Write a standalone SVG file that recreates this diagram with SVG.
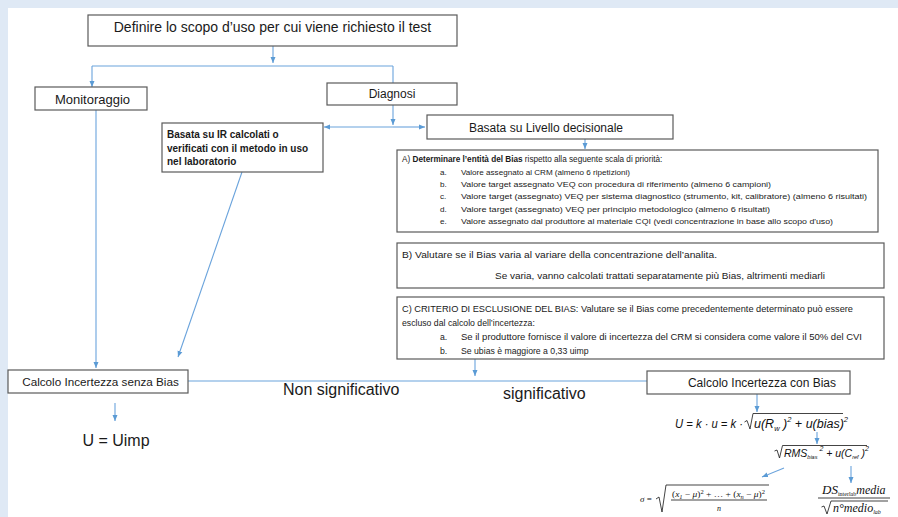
<svg xmlns="http://www.w3.org/2000/svg" width="898" height="517" viewBox="0 0 898 517">
<defs>
<style>
.bg{fill:#dfe9f5}
.box{fill:#ffffff;stroke:#5a5a5a;stroke-width:1.2}
.t{font-family:"Liberation Sans",Arial,sans-serif;fill:#1a1a1a}
.c{text-anchor:middle}
.b{font-weight:bold}
.ln{fill:none;stroke:#6aa3dc;stroke-width:1.1}
.m{font-family:"Liberation Sans",Arial,sans-serif;font-style:italic;fill:#111}
.s{font-family:"Liberation Serif","Times New Roman",serif;font-style:italic;fill:#111}
.ol{fill:none;stroke:#222;stroke-width:0.85}
</style>
<marker id="ah" viewBox="0 0 6 6" refX="6" refY="3" markerWidth="6" markerHeight="6" markerUnits="userSpaceOnUse" orient="auto"><path d="M0,0.5 L6,3 L0,5.5 z" fill="#5b9bd5"/></marker>
</defs>
<rect x="0" y="0" width="898" height="517" class="bg"/>
<rect x="8" y="8" width="890" height="509" fill="#ffffff"/>

<g id="connectors">
<path class="ln" d="M273,46 V63" marker-end="url(#ah)"/>
<path class="ln" d="M92,66 H393"/>
<path class="ln" d="M92,66 V87" marker-end="url(#ah)"/>
<path class="ln" d="M393,66 V89" marker-end="url(#ah)"/>
<path class="ln" d="M393,105 V125" marker-end="url(#ah)"/>
<path class="ln" d="M393,127 H324" marker-end="url(#ah)"/>
<path class="ln" d="M393,127 H425" marker-end="url(#ah)"/>
<path class="ln" d="M585,139 V149" marker-end="url(#ah)"/>
<path class="ln" d="M96,110 V368" marker-end="url(#ah)"/>
<path class="ln" d="M242,172 L178,357" marker-end="url(#ah)"/>
<path class="ln" d="M475,359 V376" marker-end="url(#ah)"/>
<path class="ln" d="M188,381 H647"/>
<path class="ln" d="M115,403 V421" marker-end="url(#ah)"/>
<path class="ln" d="M757,394 V412" marker-end="url(#ah)"/>
<path class="ln" d="M817,432 V444" marker-end="url(#ah)"/>
<path class="ln" d="M784,468 L762,477" marker-end="url(#ah)"/>
<path class="ln" d="M851,466 V483" marker-end="url(#ah)"/>
<text class="t" x="283" y="395" font-size="16">Non significativo</text>
<text class="t" x="503" y="399" font-size="16">significativo</text>
</g>

<g id="n-title">
<rect class="box" x="88" y="15" width="369" height="31"/>
<text class="t c" x="272.5" y="32" font-size="14">Definire lo scopo d’uso per cui viene richiesto il test</text>
</g>

<g id="n-monitoraggio">
<rect class="box" x="35" y="87" width="112" height="23"/>
<text class="t c" x="92.5" y="104" font-size="13">Monitoraggio</text>
</g>

<g id="n-diagnosi">
<rect class="box" x="327" y="83" width="130" height="22"/>
<text class="t c" x="392" y="98" font-size="12">Diagnosi</text>
</g>

<g id="n-ir">
<rect class="box" x="162" y="123" width="161" height="49"/>
<text class="t b" x="167" y="138" font-size="10">Basata su IR calcolati o</text>
<text class="t b" x="167" y="151.5" font-size="10">verificati con il metodo in uso</text>
<text class="t b" x="167" y="165" font-size="10">nel laboratorio</text>
</g>

<g id="n-livello">
<rect class="box" x="427" y="115" width="246" height="24"/>
<text class="t c" x="546" y="132" font-size="12">Basata su Livello decisionale</text>
</g>

<g id="n-a">
<rect class="box" x="397" y="150" width="481" height="82"/>
<text class="t" x="402" y="162" font-size="8.2">A) <tspan class="b">Determinare l’entità del Bias</tspan> rispetto alla seguente scala di priorità:</text>
<text class="t" x="440" y="174.5" font-size="8.1">a.</text>
<text class="t" x="461" y="174.5" font-size="8.1">Valore assegnato al CRM (almeno 6 ripetizioni)</text>
<text class="t" x="440" y="187" font-size="8.1">b.</text>
<text class="t" x="461" y="187" font-size="8.1" textLength="310" lengthAdjust="spacingAndGlyphs">Valore target assegnato VEQ con procedura di riferimento (almeno 6 campioni)</text>
<text class="t" x="440" y="199" font-size="8.1">c.</text>
<text class="t" x="461" y="199" font-size="8.1" textLength="406" lengthAdjust="spacingAndGlyphs">Valore target (assegnato) VEQ per sistema diagnostico (strumento, kit, calibratore) (almeno 6 risultati)</text>
<text class="t" x="440" y="211.5" font-size="8.1">d.</text>
<text class="t" x="461" y="211.5" font-size="8.1" textLength="309" lengthAdjust="spacingAndGlyphs">Valore target (assegnato) VEQ per principio metodologico (almeno 6 risultati)</text>
<text class="t" x="440" y="224" font-size="8.1">e.</text>
<text class="t" x="461" y="224" font-size="8.1" textLength="372" lengthAdjust="spacingAndGlyphs">Valore assegnato dal produttore al materiale CQI (vedi concentrazione in base allo scopo d'uso)</text>
</g>

<g id="n-b">
<rect class="box" x="397" y="243" width="487" height="45"/>
<text class="t" x="402" y="258" font-size="8.8" textLength="315" lengthAdjust="spacingAndGlyphs">B) Valutare se il Bias varia al variare della concentrazione dell’analita.</text>
<text class="t" x="495" y="279" font-size="8.8" textLength="330" lengthAdjust="spacingAndGlyphs">Se varia, vanno calcolati trattati separatamente più Bias, altrimenti mediarli</text>
</g>

<g id="n-c">
<rect class="box" x="397" y="297" width="487" height="62"/>
<text class="t" x="402" y="312" font-size="8.7" textLength="451" lengthAdjust="spacingAndGlyphs">C) CRITERIO DI ESCLUSIONE DEL BIAS: Valutare se il Bias come precedentemente determinato può essere</text>
<text class="t" x="402" y="326" font-size="8.7">escluso dal calcolo dell’incertezza:</text>
<text class="t" x="440" y="340" font-size="8.7">a.</text>
<text class="t" x="461" y="340" font-size="8.7" textLength="401" lengthAdjust="spacingAndGlyphs">Se il produttore fornisce il valore di incertezza del CRM si considera come valore il 50% del CVI</text>
<text class="t" x="440" y="353.5" font-size="8.7">b.</text>
<text class="t" x="461" y="353.5" font-size="8.7">Se ubias è maggiore a 0,33 uimp</text>
</g>

<g id="n-senza">
<rect class="box" x="8" y="370" width="180" height="23"/>
<text class="t c" x="100.5" y="386" font-size="11.7">Calcolo Incertezza senza Bias</text>
</g>

<g id="n-uimp">
<text class="t c" x="116" y="446" font-size="16">U = Uimp</text>
</g>

<g id="n-con">
<rect class="box" x="647" y="371" width="203" height="23"/>
<text class="t c" x="762" y="387" font-size="12">Calcolo Incertezza con Bias</text>
</g>

<g id="n-formula-u">
<text class="m" x="675" y="428" font-size="12.5" textLength="68" lengthAdjust="spacingAndGlyphs">U = k · u = k ·</text>
<polyline class="ol" points="744.5,422 747,420.5 750,429 753,413.5 843,413.5"/>
<text class="m" x="754" y="428" font-size="12.5">u(R<tspan font-size="7.5" dy="3">w</tspan><tspan dy="-3"> )</tspan><tspan font-size="7.5" dy="-6">2</tspan><tspan dy="6"> + u(bias)</tspan><tspan font-size="7.5" dy="-6">2</tspan></text>
</g>

<g id="n-formula-rms">
<polyline class="ol" points="774.5,451 777,450 779.5,458 782.5,445.5 867,445.5"/>
<text class="m" x="784" y="457" font-size="10.5">RMS<tspan font-size="5.5" dy="2">bias</tspan><tspan font-size="7" dy="-8"> 2</tspan><tspan dy="6"> + u(C</tspan><tspan font-size="5.5" dy="2">ref</tspan><tspan dy="-2"> )</tspan><tspan font-size="7" dy="-6">2</tspan></text>
</g>

<g id="n-formula-sigma">
<text class="s" x="640" y="502" font-size="9">σ <tspan font-style="normal">=</tspan></text>
<polyline class="ol" points="656,499 659,497 662,512 666,485 769,485"/>
<text class="s" x="672" y="497" font-size="8" textLength="93" lengthAdjust="spacingAndGlyphs"><tspan font-style="normal">(</tspan>x<tspan font-size="5.5" dy="1.5">1</tspan><tspan dy="-1.5" font-style="normal"> − </tspan>μ<tspan font-style="normal">)</tspan><tspan font-size="5.5" dy="-3" font-style="normal">2</tspan><tspan dy="3" font-style="normal"> + … + (</tspan>x<tspan font-size="5.5" dy="1.5">n</tspan><tspan dy="-1.5" font-style="normal"> − </tspan>μ<tspan font-style="normal">)</tspan><tspan font-size="5.5" dy="-3" font-style="normal">2</tspan></text>
<line class="ol" x1="671" y1="500" x2="767" y2="500"/>
<text class="s" x="717" y="511" font-size="8">n</text>
</g>

<g id="n-formula-ds">
<text class="s" x="822" y="494" font-size="13">DS<tspan font-size="6" font-style="normal" dy="2">interlab</tspan><tspan font-size="12" dy="-2">media</tspan></text>
<line class="ol" x1="818" y1="498" x2="890" y2="498"/>
<polyline class="ol" points="821.5,507 824,506 827,514 831,501 888,501"/>
<text class="s" x="833" y="512" font-size="12">n°medio<tspan font-size="6" dy="2">lab</tspan></text>
</g>
</svg>
